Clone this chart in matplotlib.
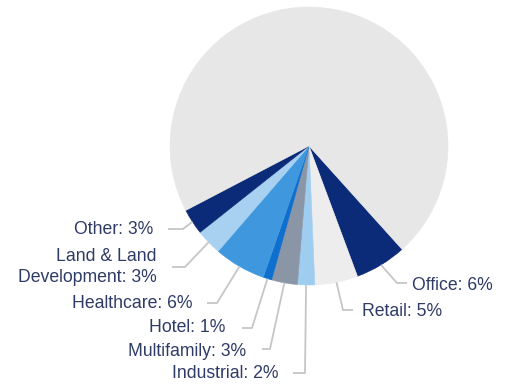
import numpy as np
import matplotlib
matplotlib.use("Agg")
import matplotlib.pyplot as plt

# portfolio mix by property type (percent)
sectors = ["Office", "Retail", "Industrial", "Multifamily", "Hotel",
           "Healthcare", "Land & Land\nDevelopment", "Other"]
shares = [6, 5, 2, 3, 1, 6, 3, 3]
rest = 100 - sum(shares)

colors = ["#0b2a78", "#ededed", "#9fcdf0", "#8a96a6", "#0f6fcf",
          "#3f97de", "#a8d0f0", "#0b2a78"]
rest_color = "#e7e7e7"

W, H = 507, 385
cx, cy, R = 309, 146, 139          # pie centre / radius in pixels

# label layout in pixels: (text x, text y, align, elbow x, elbow y, stub end x)
layout = [
    (412, 285, "left", 397, 283, 407),
    (362, 312, "left", 343, 310, 353),
    (278, 373, "right", 305, 373, 293),
    (246, 351, "right", 270, 349, 262),
    (225, 327, "right", 252, 328, 242),
    (192, 304, "right", 217, 303, 207),
    (157, 267, "right", 185, 267, 172),
    (153, 230, "right", 183, 229, 168),
]

def px(x, y):
    return (x - cx) / R, (cy - y) / R

fig = plt.figure(figsize=(W / 100, H / 100), dpi=100)
ax = fig.add_axes([0, 0, 1, 1])

# start of the Office wedge, going clockwise
start = -152.4 + 360 * sum(shares) / 100
wedges, _ = ax.pie(shares + [rest], colors=colors + [rest_color],
                   startangle=start, counterclock=False, radius=1)
for w in wedges:
    w.set_edgecolor(w.get_facecolor())
    w.set_linewidth(0.4)

ax.set_xlim(-cx / R, (W - cx) / R)
ax.set_ylim((cy - H) / R, cy / R)
ax.set_aspect("equal")
ax.axis("off")

txt_color = "#2e3b66"
line_color = "#c6c6c6"
for w, name, v, (tx, ty, ha, ex, ey, sx) in zip(wedges, sectors, shares, layout):
    mid = np.deg2rad((w.theta1 + w.theta2) / 2)
    p0 = (np.cos(mid), np.sin(mid))
    p1 = px(ex, ey)
    p2 = px(sx, ey)
    ax.plot([p0[0], p1[0], p2[0]], [p0[1], p1[1], p2[1]],
            color=line_color, lw=1.3, solid_capstyle="butt")
    x, y = px(tx, ty)
    ax.text(x, y, f"{name}: {v}%", ha=ha, va="center", fontsize=12.7,
            family="Liberation Sans", color=txt_color, linespacing=1.25,
            multialignment="right")

fig.savefig("out.png", dpi=100)
